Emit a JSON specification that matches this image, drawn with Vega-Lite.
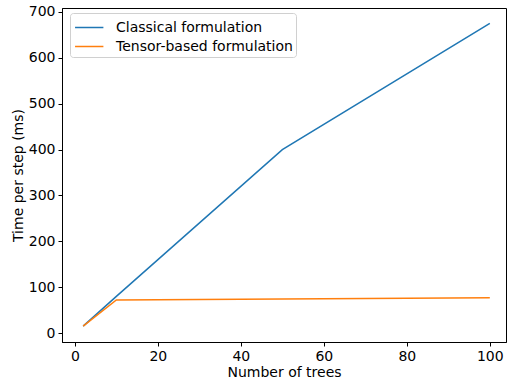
{
  "$schema": "https://vega.github.io/schema/vega-lite/v6.json",
  "width": 444,
  "height": 334,
  "autosize": {"type": "none"},
  "padding": {"left": 62, "top": 8, "right": 1, "bottom": 37},
  "config": {
    "font": "DejaVu Sans",
    "view": {"stroke": "black", "strokeWidth": 1},
    "axis": {
      "grid": false,
      "domainColor": "black",
      "tickColor": "black",
      "labelColor": "black",
      "titleColor": "black",
      "labelFontSize": 14,
      "titleFontSize": 14,
      "titleFontWeight": "normal",
      "tickSize": 4,
      "labelPadding": 3
    }
  },
  "data": {
    "values": [
      {"trees": 2, "time": 15, "series": "Classical formulation"},
      {"trees": 10, "time": 80, "series": "Classical formulation"},
      {"trees": 50, "time": 400, "series": "Classical formulation"},
      {"trees": 100, "time": 675, "series": "Classical formulation"},
      {"trees": 2, "time": 15, "series": "Tensor-based formulation"},
      {"trees": 10, "time": 72, "series": "Tensor-based formulation"},
      {"trees": 50, "time": 74, "series": "Tensor-based formulation"},
      {"trees": 100, "time": 77, "series": "Tensor-based formulation"}
    ]
  },
  "mark": {"type": "line", "strokeWidth": 1.5},
  "encoding": {
    "x": {
      "field": "trees", "type": "quantitative",
      "scale": {"domain": [-3.1, 103.9], "nice": false, "zero": false},
      "axis": {"values": [0, 20, 40, 60, 80, 100], "title": "Number of trees", "titlePadding": 2}
    },
    "y": {
      "field": "time", "type": "quantitative",
      "scale": {"domain": [-19.5, 708.7], "nice": false, "zero": false},
      "axis": {"values": [0, 100, 200, 300, 400, 500, 600, 700], "title": "Time per step (ms)", "titlePadding": 3}
    },
    "color": {
      "field": "series", "type": "nominal",
      "scale": {"domain": ["Classical formulation", "Tensor-based formulation"], "range": ["#1f77b4", "#ff7f0e"]},
      "legend": {
        "title": null,
        "orient": "none",
        "legendX": 8,
        "legendY": 5,
        "symbolType": "M-0.9,0H1.8",
        "symbolSize": 441,
        "symbolStrokeWidth": 1.5,
        "labelFontSize": 14,
        "labelColor": "black",
        "labelLimit": 400,
        "labelOffset": 20,
        "rowPadding": 0,
        "padding": 3,
        "fillColor": "white",
        "strokeColor": "#d0d0d0",
        "cornerRadius": 3
      }
    }
  }
}
